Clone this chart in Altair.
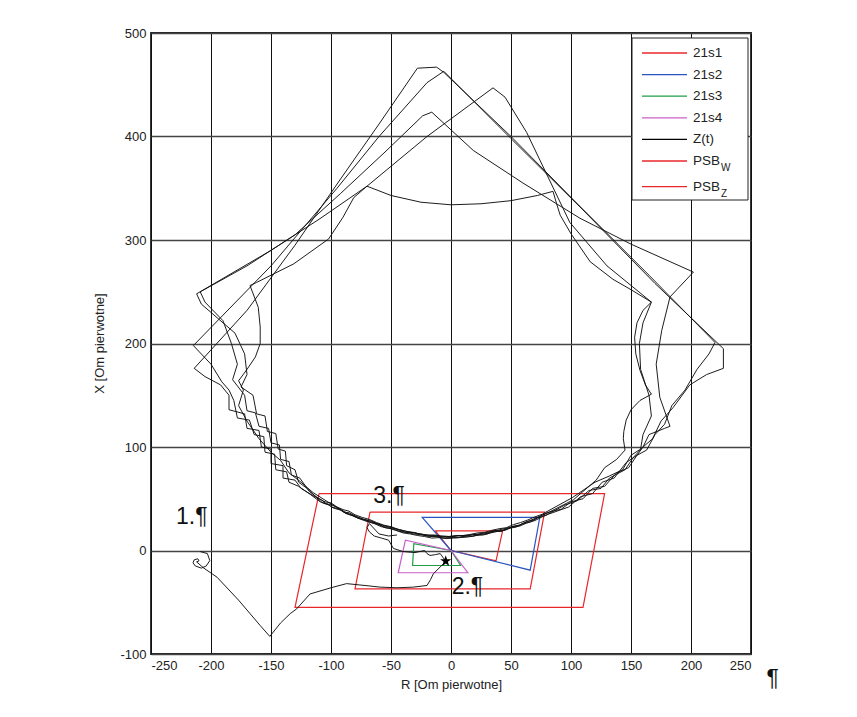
import altair as alt
import pandas as pd

# ---------------- data (R, X) ----------------
# relay characteristics (closed polygons)
PSB_Z = [(-110, 55), (128, 55), (110, -55), (-130, -55), (-110, 55)]
PSB_W = [(-67.5, 37), (78, 37), (66, -37), (-80, -37), (-67.5, 37)]
Z21S1 = [(0, 0), (-13, 19), (43, 19), (37.5, -10), (0, 0)]
Z21S2 = [(0, 0), (-24, 32), (74, 32), (66, -19), (0, 0)]
Z21S3 = [(0, 0), (-31, 6.5), (-32, -14.5), (8, -14.5), (0, 0)]
Z21S4 = [(0, 0), (-38, 10), (-44, -21.5), (14, -21.5), (0, 0)]

# impedance trajectories Z(t): upper parts and jagged bottom arcs
A_UPPER_L = [(-12, 467), (-28, 466), (-60, 412), (-92, 359), (-130, 295), (-170, 232), (-214, 176),
             (-205, 168), (-192, 160), (-185, 150), (-185, 136), (-172, 132), (-170, 118),
             (-160, 116), (-158, 100), (-150, 98), (-150, 84), (-140, 82), (-140, 70),
             (-130, 68), (-125, 60), (-115, 53)]
A_BOTTOM = [(-108, 49), (-104, 45), (-100, 44.5), (-94, 41), (-89, 37), (-85, 36.5), (-79, 33),
            (-73, 30), (-67, 29), (-62, 26), (-56, 23), (-50, 22.5), (-44, 20), (-38, 17.5),
            (-31, 17.5), (-25, 15.5), (-19, 14), (-13, 14.5), (-7, 13), (0, 13), (6, 14.5),
            (12, 13.5), (18, 15.5), (24, 15.5), (30, 16.5), (35, 19), (41, 19), (47, 21),
            (52, 23.5), (57, 24.5), (63, 28), (69, 29.5), (74, 33)]
A_UPPER_R = [(80, 36.5), (92, 40), (100, 47), (110, 50), (118, 60), (128, 62), (138, 75), (148, 80),
             (155, 92), (163, 97), (170, 112), (178, 122), (184, 140), (195, 155), (205, 175),
             (215, 190), (220, 201), (165, 266), (107, 333), (50, 400), (-6, 462), (-12, 467)]

B_UPPER_L = [(-6, 463), (-20, 452), (-60, 400), (-95, 350), (-150, 275), (-214.7, 198),
             (-200, 180), (-191, 163), (-185, 155), (-181, 145), (-178, 128), (-168, 126),
             (-164, 112), (-156, 110), (-155, 95), (-147, 93), (-146, 78), (-137, 76),
             (-135, 66), (-127, 62), (-117, 54)]
B_BOTTOM = [(-109, 47), (-103, 45), (-99, 42), (-93, 40), (-88, 36), (-84, 35), (-78, 31.5),
            (-72, 29.5), (-66, 27), (-60, 25), (-55, 22), (-49, 21), (-43, 18.5), (-37, 17.5),
            (-31, 16), (-24, 15), (-18, 13.5), (-12, 13.5), (-6, 12), (0, 12.5), (6, 12.5),
            (12, 14), (18, 13.5), (24, 15.5), (30, 16), (36, 18.5), (42, 18.5), (48, 21.5),
            (54, 22.5), (60, 26), (66, 27.5), (72, 31.5)]
B_UPPER_R = [(79, 34), (95, 44), (105, 48), (115, 58), (125, 60), (132, 70), (145, 78), (152, 90),
             (160, 100), (168, 108), (175, 125), (185, 138), (199, 160), (213, 170), (227, 176),
             (227, 195), (170, 258), (110, 329), (50, 398), (-6, 463)]

D_UPPER_L = [(-16, 423.5), (-23.6, 420), (-55, 385), (-92, 345), (-130, 305), (-170, 275),
             (-212, 248), (-208, 238), (-195, 225), (-180, 210), (-172, 190), (-170, 170),
             (-175, 158), (-165, 150), (-162, 132), (-155, 130), (-153, 115), (-146, 113),
             (-144, 98), (-138, 96), (-137, 82), (-130, 78), (-127, 66), (-120, 60), (-112, 51)]
D_BOTTOM = [(-107, 46), (-102, 44), (-98, 41), (-92, 39), (-87, 35.5), (-82, 33.5), (-76, 30.5),
            (-70, 28), (-64, 26), (-58, 23), (-52, 21.5), (-46, 19.5), (-40, 17), (-34, 16),
            (-28, 14.5), (-22, 13.5), (-16, 12), (-10, 12.5), (-4, 11.5), (2, 12), (8, 12.5),
            (14, 13), (20, 14.5), (27, 15), (33, 17), (39, 18.5), (45, 19.5), (51, 22.5),
            (57, 23.5), (63, 26.5), (70, 29), (76, 32.5)]
D_UPPER_R = [(81, 35), (98, 42), (108, 52), (118, 55), (126, 66), (136, 70), (146, 85), (155, 92),
             (160, 100), (165, 112), (178, 118), (182.5, 120), (174, 148), (171, 180),
             (175.6, 212.6), (182.5, 245), (202, 269), (150, 296), (107.5, 321), (60, 355),
             (18.6, 386.5), (-16, 423.5)]

E_UPPER_L = [(45, 438), (35, 447), (-20, 400), (-70, 352), (-110, 320), (-150, 290), (-209, 250),
             (-205, 240), (-190, 222), (-183, 200), (-178, 180), (-182, 165), (-172, 150),
             (-170, 135), (-163, 133), (-160, 120), (-152, 118), (-150, 104), (-143, 102),
             (-142, 88), (-135, 86), (-133, 73), (-126, 70), (-118, 57)]
E_BOTTOM = [(-110, 50), (-105, 47), (-100, 46), (-95, 42), (-90, 39.5), (-85, 38), (-80, 34.5),
            (-74, 32), (-68, 30), (-62, 27), (-56, 24.5), (-50, 23), (-44, 20.5), (-38, 18.5),
            (-32, 17.5), (-26, 16), (-20, 15), (-14, 15), (-8, 14), (-2, 13.5), (4, 14.5),
            (10, 14.5), (16, 15.5), (22, 17), (28, 17.5), (34, 19.5), (40, 21), (46, 22),
            (52, 25), (58, 27), (64, 29.5), (70, 32.5), (76, 35)]
E_UPPER_R = [(79, 37), (101, 51), (120, 66), (132, 72), (143, 78), (150, 92), (158, 98),
             (160, 112), (167, 130), (165, 150), (158, 175), (157, 200), (160, 220), (167, 240),
             (130, 275), (99, 317), (63, 404), (45, 438)]

LOOP_C = [(-70, 352), (-50, 343), (-25, 336.5), (0, 334), (25, 335), (50, 338), (72, 343), (85, 347),
          (88, 335), (91, 324), (100, 306), (116, 279), (135, 262), (150, 252), (167, 240),
          (160, 232), (155, 220), (153, 206), (154, 190), (157.5, 174), (162, 160), (167, 151),
          (157.5, 145), (150, 136), (146, 126), (144, 115), (143.6, 108), (145, 97), (138, 88),
          (128, 80), (121, 68), (102, 49), (80, 36), (57, 24.5), (35, 18.5), (18, 15), (0, 13.5),
          (-15, 14), (-31, 17), (-50, 22), (-67, 28), (-85, 35), (-100, 45), (-115, 56),
          (-125, 66), (-135, 75), (-142, 87), (-150, 95), (-160, 108), (-170, 125), (-177, 140),
          (-173, 155), (-177, 164), (-170, 175), (-163, 187), (-159, 200), (-159, 216),
          (-160.6, 235), (-167.5, 256), (-162, 259), (-131, 277), (-102, 301), (-90, 322),
          (-81, 341), (-70, 352)]
APPROACH = [(-209, -1), (-203, -3), (-201, -9.7), (-204, -15), (-208, -17), (-213, -15),
            (-215, -12), (-214, -9), (-211, -8), (-210, -10), (-212, -11), (-206, -17),
            (-195, -25.8), (-177, -48), (-159, -72.5), (-151, -83), (-142, -70), (-134, -61),
            (-128.6, -56.4), (-117.5, -42), (-100, -36), (-87, -32), (-70, -34), (-59, -35.4),
            (-45, -36), (-31.4, -35.4), (-20, -33.8), (-17, -28), (-14.7, -22.5), (-10, -17),
            (-6.4, -12.9), (-4.4, -10.3)]
RETURN = [(-4.4, -10.3), (-9, -3), (-13, -4), (-17.5, -4.8), (-20, -3), (-22, 0), (-30, -2),
          (-40, -1), (-48, 2), (-50, 6), (-52, 10), (-58, 12), (-64, 14), (-68, 18), (-70, 22),
          (-68, 26), (-60, 16), (-52, 14), (-45, 15)]
STAR = [(-4.4, -10.3)]

LABELS = ["1.¶", "2.¶", "3.¶", "¶"]
LABEL_R = [-216, 13.7, -51.7, 268]
LABEL_X = [32.4, -34.8, 52.2, -123.7]

SERIES = ["21s1", "21s2", "21s3", "21s4", "Z(t)", "PSB_W", "PSB_Z"]
COLORS = ["#e8272a", "#2a55c0", "#1e9e48", "#c85fc8", "#000000", "#e8272a", "#e8272a"]
LEGEND_TEXT = ["21s1", "21s2", "21s3", "21s4", "Z(t)", "PSB", "PSB"]
LEGEND_SUB = ["", "", "", "", "", "W", "Z"]

STAR_PATH = ("M0,-1L0.2245,-0.309L0.951,-0.309L0.363,0.118L0.588,0.809L0,0.382"
             "L-0.588,0.809L-0.363,0.118L-0.951,-0.309L-0.2245,-0.309Z")

# ---------------- build tables ----------------
LOOP_A = A_UPPER_L + A_BOTTOM + A_UPPER_R
LOOP_B = B_UPPER_L + B_BOTTOM + B_UPPER_R
LOOP_D = D_UPPER_L + D_BOTTOM + D_UPPER_R
LOOP_E = E_UPPER_L + E_BOTTOM + E_UPPER_R

rows = []
curves = [("PSB_Z", "PSB_Z", PSB_Z), ("PSB_W", "PSB_W", PSB_W), ("21s1", "21s1", Z21S1),
          ("21s2", "21s2", Z21S2), ("21s3", "21s3", Z21S3), ("21s4", "21s4", Z21S4),
          ("A", "Z(t)", LOOP_A), ("B", "Z(t)", LOOP_B), ("D", "Z(t)", LOOP_D),
          ("E", "Z(t)", LOOP_E), ("C", "Z(t)", LOOP_C), ("T1", "Z(t)", APPROACH),
          ("T2", "Z(t)", RETURN)]
for cname, ser, pts in curves:
    for i, (r, x) in enumerate(pts):
        rows.append({"curve": cname, "series": ser, "i": i, "R": r, "X": x})
df = pd.DataFrame(rows)
zones = df[df.series != "Z(t)"]
traj = df[df.series == "Z(t)"]
star = pd.DataFrame({"R": [p[0] for p in STAR], "X": [p[1] for p in STAR]})
labels = pd.DataFrame({"t": LABELS, "R": LABEL_R, "X": LABEL_X})

W, H = 600, 621
xs = alt.Scale(domain=[-250, 250], nice=False, zero=False)
ys = alt.Scale(domain=[-100, 500], nice=False, zero=False)
cs = alt.Scale(domain=SERIES, range=COLORS)

xax = alt.Axis(values=list(range(-250, 251, 50)), labelExpr="'' + datum.value", grid=True,
               gridColor="#111111", gridWidth=1, ticks=False, domain=False, labelFontSize=13,
               labelColor="#222222", labelPadding=5, title="R [Om pierwotne]", titleFontSize=13,
               titleFontWeight="normal", titleColor="#222222", titleY=24)
yax = alt.Axis(values=list(range(-100, 501, 100)), labelExpr="'' + datum.value", grid=True,
               gridColor="#444444", gridWidth=1.3, ticks=False, domain=False, labelFontSize=13,
               labelColor="#222222", labelPadding=5, title="X [Om pierwotne]", titleFontSize=13,
               titleFontWeight="normal", titleColor="#222222", titleX=-45, titleY=310)

zone_layer = alt.Chart(zones).mark_line(strokeWidth=1.2).encode(
    x=alt.X("R:Q", scale=xs, axis=xax),
    y=alt.Y("X:Q", scale=ys, axis=yax),
    color=alt.Color("series:N", scale=cs, legend=None),
    detail="curve:N",
    order="i:Q",
)
traj_layer = alt.Chart(traj).mark_line(strokeWidth=0.95, color="#111111").encode(
    x="R:Q", y="X:Q", detail="curve:N", order="i:Q"
)
star_layer = alt.Chart(star).mark_point(shape=STAR_PATH, filled=True, color="#000000",
                                        size=140, opacity=1).encode(x="R:Q", y="X:Q")
text_layer = alt.Chart(labels).mark_text(fontSize=23, font="Liberation Sans", color="#111111",
                                         align="center", baseline="middle").encode(
    x="R:Q", y="X:Q", text="t:N"
)

# ---------------- custom legend (pixel positions, layout only) ----------------
one = pd.DataFrame({"k": [0]})
legend_layers = [alt.Chart(one).mark_rect(fill="white", stroke="#222222", strokeWidth=1).encode(
    x=alt.value(481), x2=alt.value(597), y=alt.value(5), y2=alt.value(167))]
top0, step = 20, 21.6
for k, (ser, col, txt, sub) in enumerate(zip(SERIES, COLORS, LEGEND_TEXT, LEGEND_SUB)):
    ly = top0 + k * step + (4 if k == 6 else 0)
    legend_layers.append(alt.Chart(one).mark_rule(strokeWidth=1.3, color=col).encode(
        x=alt.value(491), x2=alt.value(536), y=alt.value(ly)))
    legend_layers.append(alt.Chart(one).mark_text(
        fontSize=13.5, font="Liberation Sans", align="left", baseline="middle",
        color="#222222", text=txt).encode(x=alt.value(542), y=alt.value(ly)))
    if sub:
        legend_layers.append(alt.Chart(one).mark_text(
            fontSize=10, font="Liberation Sans", align="left", baseline="middle",
            color="#222222", text=sub).encode(x=alt.value(570), y=alt.value(ly + 7)))

chart = alt.layer(zone_layer, traj_layer, star_layer, text_layer, *legend_layers).properties(
    width=W, height=H,
    autosize=alt.AutoSizeParams(type="none"),
    padding={"left": 143, "top": 25, "right": 98, "bottom": 50},
    background="white",
).configure_view(stroke="#222222", strokeWidth=1.8).configure_axis(
    labelFont="Liberation Sans", titleFont="Liberation Sans"
)

chart.save("out.html", embed_options={"renderer": "svg", "actions": False})
